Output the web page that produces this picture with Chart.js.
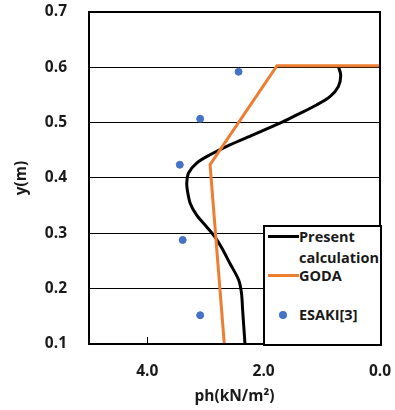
<!DOCTYPE html>
<html>
<head>
<meta charset="utf-8">
<script src="https://cdn.jsdelivr.net/npm/chart.js@4"></script>
<style>
  html, body { margin: 0; padding: 0; background: #fff; }
  #wrap { position: relative; width: 395px; height: 410px; }
  #legend {
    position: absolute; left: 263px; top: 225px; width: 115px; height: 117px;
    border: 2px solid #000; background: #fff; box-sizing: content-box;
    font-family: "Open Sans", sans-serif; font-weight: bold; font-size: 14.5px; color: #1a1a1a;
  }
  .swatch { position: absolute; }
  .txt { position: absolute; left: 34px; line-height: 20px; white-space: nowrap; }
  #dbg { position: absolute; left: 100px; top: 0px; font: 10px monospace; color: red; }
</style>
</head>
<body>
<div id="wrap">
  <canvas id="c" width="395" height="410"></canvas>
  <div id="legend"></div>
  <div id="dbg"></div>
</div>
<script>
// ---- data ----
const seriesLabels = ["Present\ncalculation", "GODA", "ESAKI[3]"];
const presentPh = [0.72, 0.675, 0.716, 0.86, 1.09, 1.43, 1.72, 2.18, 2.58, 2.92, 3.15, 3.29, 3.32, 3.31, 3.26, 3.15, 2.98, 2.84, 2.72, 2.58, 2.43, 2.38, 2.36, 2.34, 2.32];
const presentY  = [0.603, 0.586, 0.565, 0.547, 0.532, 0.514, 0.499, 0.478, 0.460, 0.442, 0.427, 0.409, 0.391, 0.378, 0.354, 0.333, 0.312, 0.294, 0.274, 0.246, 0.216, 0.192, 0.161, 0.131, 0.100];
const godaPh = [0.0, 1.77, 2.92, 2.675];
const godaY  = [0.603, 0.603, 0.424, 0.100];
const esakiPh = [2.43, 3.09, 3.44, 3.39, 3.09];
const esakiY  = [0.592, 0.507, 0.424, 0.288, 0.152];
const xTicks = [0, 2, 4];
const yTicks = [0.1, 0.2, 0.3, 0.4, 0.5, 0.6, 0.7];

const colors = ["#000000", "#ED7D31", "#4472C4"];
const toPts = (xs, ys) => xs.map((x, i) => ({ x: x, y: ys[i] }));
const dbg = document.getElementById('dbg');

const frame = {
  id: 'frame',
  afterDraw(chart) {
    try {
      const a = chart.chartArea, ctx = chart.ctx;
      ctx.save();
      ctx.strokeStyle = '#000'; ctx.lineWidth = 2;
      ctx.strokeRect(a.left, a.top, a.right - a.left, a.bottom - a.top);
      ctx.lineWidth = 1;
      const xs = chart.scales.x;
      xTicks.forEach(v => {
        const px = Math.round(xs.getPixelForValue(v)) + 0.5;
        ctx.beginPath(); ctx.moveTo(px, a.bottom); ctx.lineTo(px, a.bottom - 7); ctx.stroke();
      });
      ctx.restore();
    } catch (e) { dbg.textContent = 'ERR ' + e.message; }
  }
};

const font = { family: "'Open Sans', sans-serif", weight: 'bold', size: 15.5 };

try {
new Chart(document.getElementById('c'), {
  type: 'scatter',
  data: {
    datasets: [
      { label: seriesLabels[0], data: toPts(presentPh, presentY), showLine: true, borderColor: colors[0], borderWidth: 3, pointRadius: 0, tension: 0.3, order: 2 },
      { label: seriesLabels[1], data: toPts(godaPh, godaY), showLine: true, borderColor: colors[1], borderWidth: 3, pointRadius: 0, tension: 0, order: 1 },
      { label: seriesLabels[2], data: toPts(esakiPh, esakiY), showLine: false, backgroundColor: colors[2], borderColor: colors[2], pointRadius: 3.5, order: 0 }
    ]
  },
  options: {
    responsive: false,
    animation: false,
    layout: { padding: { left: 12, right: 15, top: 12, bottom: 4 } },
    plugins: { legend: { display: false }, tooltip: { enabled: false } },
    scales: {
      x: {
        type: 'linear', reverse: true, min: 0, max: 5,
        afterBuildTicks: s => { s.ticks = xTicks.map(v => ({ value: v })); },
        afterFit: s => { s.height = 62; s.paddingLeft = 0; s.paddingRight = 0; },
        grid: { display: false, drawTicks: false },
        border: { display: true, color: '#000', width: 2 },
        ticks: { color: '#1a1a1a', font: font, padding: 18, callback: v => Number(v).toFixed(1), maxRotation: 0 },
        title: { display: true, text: 'ph(kN/m²)', color: '#1a1a1a', font: font, padding: { top: 0, bottom: 0 } }
      },
      y: {
        type: 'linear', min: 0.1, max: 0.7,
        afterBuildTicks: s => { s.ticks = yTicks.map(v => ({ value: v })); },
        afterFit: s => { s.width = 77; s.paddingTop = 0; s.paddingBottom = 0; },
        grid: { color: '#000', lineWidth: 1, drawTicks: false },
        border: { display: true, color: '#000', width: 2 },
        ticks: { color: '#1a1a1a', font: font, padding: 22, callback: v => Number(v).toFixed(1) },
        title: { display: true, text: 'y(m)', color: '#1a1a1a', font: font, padding: 0 }
      }
    }
  },
  plugins: [frame]
});
} catch (e) { dbg.textContent = 'ERR2 ' + e.message; }

// HTML legend built from series labels
const lg = document.getElementById('legend');
const rows = [
  { top: 0, sw: 'line' },
  { top: 39, sw: 'line' },
  { top: 78, sw: 'dot' }
];
seriesLabels.forEach((lab, i) => {
  const r = rows[i];
  const sw = document.createElement('div');
  sw.className = 'swatch';
  if (r.sw === 'line') {
    sw.style.cssText = `left:3px;top:${r.top + 8}px;width:31px;height:3px;background:${colors[i]};`;
  } else {
    sw.style.cssText = `left:14px;top:${r.top + 6}px;width:8px;height:8px;border-radius:50%;background:${colors[i]};`;
  }
  lg.appendChild(sw);
  lab.split('\n').forEach((line, k) => {
    const t = document.createElement('div');
    t.className = 'txt';
    t.style.top = (r.top + k * 21) + 'px';
    t.textContent = line;
    lg.appendChild(t);
  });
});
</script>
</body>
</html>
